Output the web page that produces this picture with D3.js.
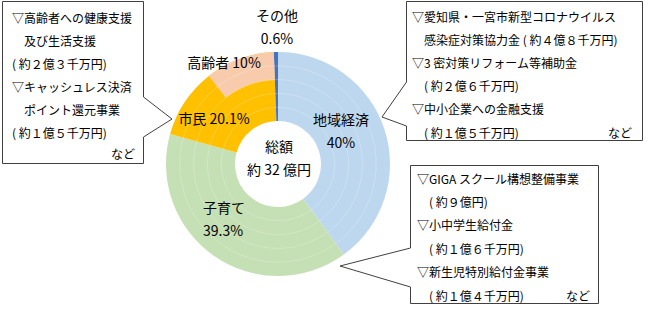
<!DOCTYPE html>
<html>
<head>
<meta charset="utf-8">
<script src="https://cdn.jsdelivr.net/npm/d3@7"></script>
<style>
  body { margin: 0; background: #fff; }
  text { font-family: "Noto Sans CJK JP", sans-serif; fill: #000; }
</style>
</head>
<body>
<div id="chart"></div>
<script>
// 分野別の割合 (%)
const categories = ["地域経済", "子育て", "市民", "その他"];
const shares = [40, 39.3, 20.1, 0.6];
const colors = ["#bdd7ee", "#c5e0b4", "#ffc000", "#4472c4"];
// 市民のうち高齢者向け
const subLabel = "高齢者";
const subShare = 10;
const subColor = "#f8cbad";

const totalLabel = ["総額", "約 32 億円"];

const calloutLeft = [
  "▽高齢者への健康支援",
  "　及び生活支援",
  "( 約２億３千万円)",
  "▽キャッシュレス決済",
  "　ポイント還元事業",
  "( 約１億５千万円)"
];
const calloutTopRight = [
  "▽愛知県・一宮市新型コロナウイルス",
  "　感染症対策協力金 ( 約４億８千万円)",
  "▽3 密対策リフォーム等補助金",
  "　( 約２億６千万円)",
  "▽中小企業への金融支援",
  "　( 約１億５千万円)"
];
const calloutBottomRight = [
  "▽GIGA スクール構想整備事業",
  "　( 約９億円)",
  "▽小中学生給付金",
  "　( 約１億６千万円)",
  "▽新生児特別給付金事業",
  "　( 約１億４千万円)"
];

const width = 650, height = 316;
const cx = 278, cy = 164;
const innerRadius = 43, outerRadius = 112;
const ringCount = 5;

const svg = d3.select("#chart").append("svg")
  .attr("width", width)
  .attr("height", height);

const g = svg.append("g").attr("transform", `translate(${cx},${cy})`);

const pie = d3.pie().sort(null).value(d => d.value);
const data = categories.map((c, i) => ({ name: c, value: shares[i], color: colors[i] }));
const arcs = pie(data);

const arcGen = d3.arc().innerRadius(innerRadius).outerRadius(outerRadius);

g.selectAll("path.slice")
  .data(arcs)
  .enter()
  .append("path")
  .attr("class", "slice")
  .attr("d", arcGen)
  .style("fill", d => d.data.color);

// 高齢者: 市民の外側2リング
const ringScale = d3.scaleLinear().domain([0, ringCount]).range([innerRadius, outerRadius]);
const angle = d3.scaleLinear().domain([0, 100]).range([0, 2 * Math.PI]);
const shiminArc = arcs[2];
g.append("path")
  .attr("d", d3.arc()
    .innerRadius(ringScale(ringCount - 2))
    .outerRadius(outerRadius)
    .startAngle(shiminArc.endAngle - angle(subShare))
    .endAngle(shiminArc.endAngle)())
  .style("fill", subColor);

// うっすらした同心円
g.selectAll("circle.ring")
  .data(d3.range(1, ringCount))
  .enter()
  .append("circle")
  .attr("r", d => ringScale(d))
  .style("fill", "none")
  .style("stroke", "#ffffff")
  .style("stroke-opacity", 0.22)
  .style("stroke-width", 1);

// ラベル
function label(lines, x, y, anchor, size) {
  const t = svg.append("text")
    .attr("text-anchor", anchor || "middle")
    .style("font-size", (size || 14) + "px");
  lines.forEach((s, i) => {
    t.append("tspan")
      .attr("x", x)
      .attr("y", y + i * 23)
      .attr("dominant-baseline", "central")
      .text(s);
  });
}

label([categories[3], shares[3] + "%"], 277, 15, "middle");
label([subLabel + " " + subShare + "%"], 224, 62, "middle");
label([categories[2] + " " + shares[2] + "%"], 214, 118, "middle");
label([categories[0], shares[0] + "%"], 341, 119, "middle");
label([categories[1], shares[1] + "%"], 203, 207, "start");
label(totalLabel, 279, 146, "middle");

// 吹き出し
function callout(points, lines, x0, y0, step, rightX, nadoY) {
  svg.append("path")
    .attr("d", d3.line()(points) + "Z")
    .style("fill", "#ffffff")
    .style("stroke", "#404040")
    .style("stroke-width", 1);
  const t = svg.append("text").style("font-size", "12px");
  lines.forEach((s, i) => {
    t.append("tspan")
      .attr("x", x0)
      .attr("y", y0 + i * step)
      .attr("dominant-baseline", "central")
      .text(s);
  });
  svg.append("text")
    .attr("x", rightX)
    .attr("y", nadoY)
    .attr("dominant-baseline", "central")
    .attr("text-anchor", "end")
    .style("font-size", "12px")
    .text("など");
}

callout([[2.5, 1.5], [143.5, 1.5], [143.5, 97], [172, 119], [143.5, 137], [143.5, 163.5], [2.5, 163.5]],
  calloutLeft, 12, 17, 23, 135, 153);
callout([[406.5, 1.5], [642.5, 1.5], [642.5, 140.5], [406.5, 140.5], [406.5, 126], [382, 117], [406.5, 82]],
  calloutTopRight, 412, 16, 23.2, 632, 132);
callout([[410.5, 165.5], [598.5, 165.5], [598.5, 303.5], [410.5, 303.5], [410.5, 287], [340, 266], [410.5, 248]],
  calloutBottomRight, 417, 178, 23.4, 590, 295);
</script>
</body>
</html>
